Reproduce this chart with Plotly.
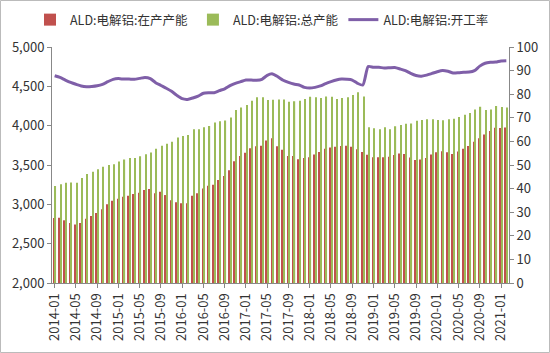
import plotly.graph_objects as go

# Categories: monthly 2014-01 .. 2021-02
months = [f"{y}-{m:02d}" for y in range(2014, 2022) for m in range(1, 13)]
months = months[: months.index("2021-02") + 1]

tick_labels = months[::4]

running_capacity = [
    2826, 2830, 2797, 2763, 2745, 2763, 2818, 2852, 2890, 2936,
    3000, 3046, 3072, 3097, 3110, 3131, 3148, 3182, 3195, 3140,
    3160, 3118, 3053, 3025, 3013, 3013, 3110, 3140, 3200, 3235,
    3250, 3309, 3360, 3432, 3548, 3614, 3656, 3712, 3737, 3744,
    3813, 3839, 3737, 3693, 3614, 3614, 3572, 3590, 3597, 3635,
    3665, 3707, 3722, 3732, 3740, 3745, 3733, 3700, 3665, 3630,
    3600, 3597, 3597, 3606, 3627, 3645, 3640, 3595, 3563, 3570,
    3590, 3635, 3662, 3675, 3663, 3640, 3673, 3705, 3741, 3797,
    3840, 3888, 3932, 3972, 3970, 3977,
]

total_capacity = [
    3233, 3254, 3275, 3278, 3275, 3335, 3385, 3415, 3445, 3479,
    3500, 3510, 3545, 3570, 3590, 3590, 3612, 3638, 3660, 3705,
    3745, 3770, 3796, 3851, 3868, 3881, 3953, 3953, 3979, 3995,
    4040, 4055, 4065, 4103, 4199, 4230, 4262, 4317, 4360, 4360,
    4326, 4330, 4334, 4334, 4304, 4310, 4317, 4340, 4368, 4360,
    4352, 4372, 4368, 4340, 4352, 4360, 4390, 4425, 4372, 3979,
    3966, 3955, 3979, 3955, 3992, 4008, 4025, 4029, 4061, 4072,
    4083, 4082, 4072, 4068, 4082, 4087, 4110, 4140, 4160, 4207,
    4240, 4199, 4207, 4250, 4237, 4230,
]

utilization = [
    87.8, 87.1, 86.0, 85.0, 84.2, 83.5, 83.2, 83.3, 83.6, 84.2,
    85.3, 86.3, 86.6, 86.4, 86.4, 86.3, 86.7, 87.1, 86.6, 84.9,
    83.7, 82.5, 81.2, 79.5, 78.1, 77.8, 78.4, 79.2, 80.4, 80.6,
    80.6, 81.5, 82.3, 83.6, 84.6, 85.3, 86.0, 86.0, 85.9, 86.3,
    88.0, 88.6, 87.4, 85.9, 85.0, 84.3, 83.9, 82.9, 82.6, 82.9,
    83.5, 84.5, 85.3, 86.0, 86.4, 86.3, 86.0, 84.6, 83.9, 91.7,
    91.4, 91.4, 91.1, 91.2, 91.3, 90.7, 90.0, 88.8, 87.9, 87.6,
    88.1, 88.8, 89.5, 90.0, 89.7, 89.0, 89.1, 89.3, 89.4, 90.0,
    91.9, 93.1, 93.5, 93.6, 94.1, 94.2,
]

names = ["ALD:电解铝:在产产能", "ALD:电解铝:总产能", "ALD:电解铝:开工率"]
colors = ["#C0504D", "#9BBB59", "#7F5FA8"]

FONT = "Noto Sans CJK SC"

fig = go.Figure()
fig.add_trace(go.Bar(x=months, y=running_capacity, name=names[0],
                     marker=dict(color=colors[0], line=dict(width=0))))
fig.add_trace(go.Bar(x=months, y=total_capacity, name=names[1],
                     marker=dict(color=colors[1], line=dict(width=0))))
fig.add_trace(go.Scatter(x=months, y=utilization, name=names[2], yaxis="y2",
                         mode="lines",
                         line=dict(color=colors[2], width=3, shape="spline", smoothing=0.6)))

L, R, T, B = 52, 41, 47, 70
W, H = 550, 353
pw, ph = W - L - R, H - T - B

fig.update_layout(
    width=W, height=H,
    margin=dict(l=L, r=R, t=T, b=B, autoexpand=False),
    paper_bgcolor="white", plot_bgcolor="white",
    font=dict(family=FONT, size=13, color="#333333"),
    barmode="group", bargap=0.4, bargroupgap=0.25,
    showlegend=True,
    legend=dict(orientation="h", x=(30 - L) / pw, xanchor="left",
                y=1 + (T - 20) / ph, yanchor="middle",
                font=dict(family=FONT, size=12.5, color="#333333"),
                itemwidth=30, tracegroupgap=0, bgcolor="rgba(0,0,0,0)"),
    xaxis=dict(type="category", tickmode="array", tickvals=tick_labels,
               ticktext=tick_labels, tickangle=-90, showline=True,
               linecolor="#888888", linewidth=1, ticks="outside", ticklen=4,
               tickcolor="#888888", showgrid=False, zeroline=False,
               tickfont=dict(family=FONT, size=13, color="#333333"),
               automargin=False),
    yaxis=dict(range=[2000, 5000], dtick=500, tickformat=",", showline=True,
               linecolor="#888888", linewidth=1, ticks="outside", ticklen=4,
               tickcolor="#888888", showgrid=False, zeroline=False,
               tickfont=dict(family=FONT, size=13, color="#333333"),
               automargin=False),
    yaxis2=dict(range=[0, 100], dtick=10, overlaying="y", side="right",
                showline=True, linecolor="#888888", linewidth=1,
                ticks="outside", ticklen=4, tickcolor="#888888",
                showgrid=False, zeroline=False,
                tickfont=dict(family=FONT, size=13, color="#333333"),
                automargin=False),
    shapes=[dict(type="rect", xref="paper", yref="paper",
                 x0=-(L - 0.5) / pw, x1=1 + (R - 0.5) / pw,
                 y0=-(B - 0.5) / ph, y1=1 + (T - 0.5) / ph,
                 line=dict(color="#BBBBBB", width=1), layer="below")],
)

fig.write_html("out.html")
